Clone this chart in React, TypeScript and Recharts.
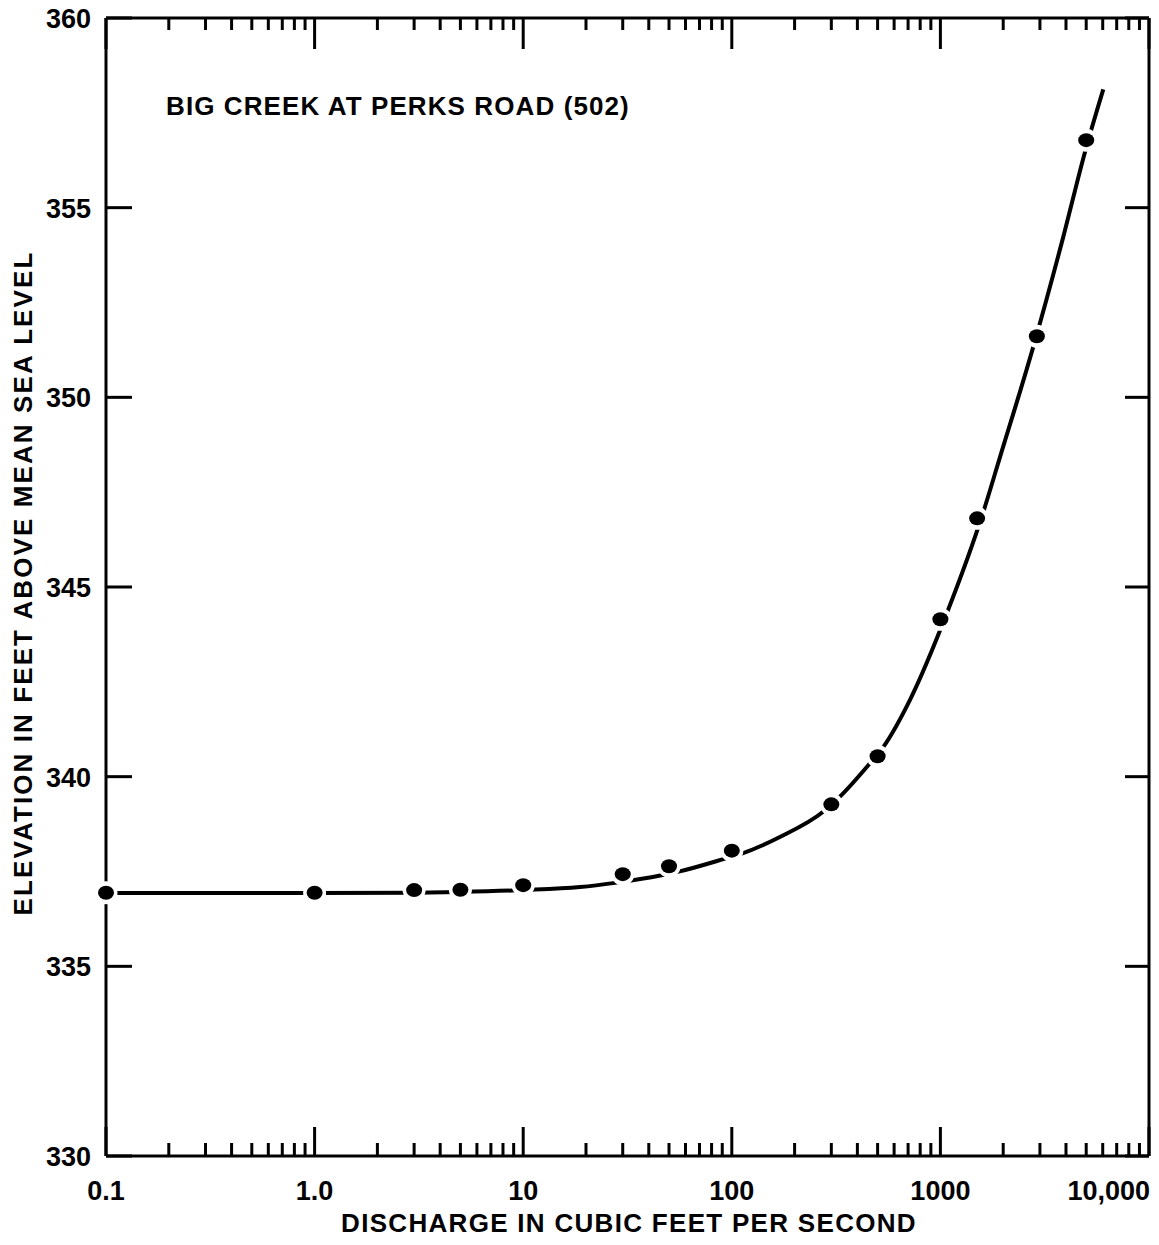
import React from 'react';
import { ComposedChart, XAxis, YAxis, Line, Scatter } from 'recharts';

const W = 1159;
const H = 1245;
const FONT = '"Liberation Sans", Arial, Helvetica, sans-serif';

// Measured stage/discharge pairs
const discharge = [0.1, 1, 3, 5, 10, 30, 50, 100, 300, 500, 1000, 1500, 2900, 5000];
const elevation = [336.94, 336.94, 337.01, 337.02, 337.14, 337.43, 337.64, 338.05, 339.27, 340.54, 344.15, 346.81, 351.61, 356.78];

// Fitted rating curve
const curveDischarge = [0.1, 1, 3, 5, 10, 18.7, 27.5, 46, 55, 93, 110, 170, 275, 324, 451, 532, 714, 1072, 1606, 1932, 2787, 3882, 4934, 6039];
const curveElevation = [336.93, 336.93, 336.94, 336.96, 337.01, 337.09, 337.2, 337.4, 337.49, 337.84, 337.96, 338.41, 339.08, 339.43, 340.3, 340.78, 342.02, 344.3, 346.98, 348.43, 351.33, 354.23, 356.47, 358.12];

// Axis ticks
const decadeTicks = [0.1, 1, 10, 100, 1000, 10000];
const decadeLabels = ['0.1', '1.0', '10', '100', '1000', '10,000'];
const minorMultipliers = [2, 3, 4, 5, 6, 7, 8, 9];
const elevationTicks = [330, 335, 340, 345, 350, 355, 360];

const xTicks: number[] = [];
decadeTicks.slice(0, -1).forEach((d) => {
  xTicks.push(d);
  minorMultipliers.forEach((m) => xTicks.push(d * m));
});
xTicks.push(decadeTicks[decadeTicks.length - 1]);

const obsData = discharge.map((q, i) => ({ q, v: elevation[i] }));
const curveData = curveDischarge.map((q, i) => ({ q, v: curveElevation[i] }));

const decadeIndex = (v: number) => decadeTicks.findIndex((d) => Math.abs(d - v) < d * 1e-6);

const BottomTick = (props: any) => {
  const { x, y, payload } = props;
  const idx = decadeIndex(payload.value);
  const major = idx >= 0;
  const last = idx === decadeTicks.length - 1;
  return (
    <g>
      <line x1={x} x2={x} y1={y} y2={y - (major ? 29 : 13)} stroke="#000" strokeWidth={3} />
      {major && (
        <text
          x={last ? x + 1 : x}
          y={y + 44}
          textAnchor={last ? 'end' : 'middle'}
          fontFamily={FONT}
          fontWeight="bold"
          fontSize={27}
          fill="#000"
        >
          {decadeLabels[idx]}
        </text>
      )}
    </g>
  );
};

const TopTick = (props: any) => {
  const { x, y, payload } = props;
  const major = decadeIndex(payload.value) >= 0;
  return <line x1={x} x2={x} y1={y} y2={y + (major ? 31 : 12)} stroke="#000" strokeWidth={3} />;
};

const LeftTick = (props: any) => {
  const { x, y, payload } = props;
  return (
    <g>
      <line x1={x} x2={x + 26} y1={y} y2={y} stroke="#000" strokeWidth={3} />
      <text
        x={x - 15}
        y={y + 10}
        textAnchor="end"
        fontFamily={FONT}
        fontWeight="bold"
        fontSize={27}
        fill="#000"
      >
        {payload.value}
      </text>
    </g>
  );
};

const RightTick = (props: any) => {
  const { x, y } = props;
  return <line x1={x} x2={x - 24} y1={y} y2={y} stroke="#000" strokeWidth={3} />;
};

const PointMark = (props: any) => {
  const { cx, cy } = props;
  return (
    <g>
      <circle cx={cx} cy={cy} r={11.5} fill="#fff" />
      <ellipse cx={cx} cy={cy} rx={8} ry={7} fill="#000" />
    </g>
  );
};

const axisLine = { stroke: '#000', strokeWidth: 3 };

export default function App() {
  return (
    <div style={{ position: 'absolute', left: 0, top: 0, width: W, height: H, background: '#fff' }}>
      <ComposedChart width={W} height={H} margin={{ top: 17, right: 9, bottom: 88, left: 105 }}>
        <XAxis
          xAxisId="bottom"
          dataKey="q"
          type="number"
          scale="log"
          domain={[0.1, 10000]}
          ticks={xTicks}
          interval={0}
          height={1}
          tickSize={0}
          tickMargin={0}
          tickLine={false}
          axisLine={axisLine}
          tick={<BottomTick />}
        />
        <XAxis
          xAxisId="top"
          orientation="top"
          dataKey="q"
          type="number"
          scale="log"
          domain={[0.1, 10000]}
          ticks={xTicks}
          interval={0}
          height={1}
          tickSize={0}
          tickMargin={0}
          tickLine={false}
          axisLine={axisLine}
          tick={<TopTick />}
        />
        <YAxis
          yAxisId="left"
          dataKey="v"
          type="number"
          domain={[330, 360]}
          ticks={elevationTicks}
          interval={0}
          width={1}
          tickSize={0}
          tickMargin={0}
          tickLine={false}
          axisLine={axisLine}
          tick={<LeftTick />}
        />
        <YAxis
          yAxisId="right"
          orientation="right"
          dataKey="v"
          type="number"
          domain={[330, 360]}
          ticks={elevationTicks}
          interval={0}
          width={1}
          tickSize={0}
          tickMargin={0}
          tickLine={false}
          axisLine={axisLine}
          tick={<RightTick />}
        />
        {/* unstroked copy of the curve keeps the top and right frame axes bound to data */}
        <Line
          xAxisId="top"
          yAxisId="right"
          data={curveData}
          dataKey="v"
          type="monotone"
          stroke="none"
          dot={false}
          activeDot={false}
          isAnimationActive={false}
        />
        <Line
          xAxisId="bottom"
          yAxisId="left"
          data={curveData}
          dataKey="v"
          type="monotone"
          stroke="#000"
          strokeWidth={4}
          dot={false}
          activeDot={false}
          isAnimationActive={false}
        />
        <Scatter
          xAxisId="bottom"
          yAxisId="left"
          data={obsData}
          dataKey="v"
          shape={<PointMark />}
          isAnimationActive={false}
        />
      </ComposedChart>
      <svg
        width={W}
        height={H}
        style={{ position: 'absolute', left: 0, top: 0, pointerEvents: 'none' }}
      >
        <text x={166} y={115} fontFamily={FONT} fontWeight="bold" fontSize={26} letterSpacing={1.1} fill="#000">
          BIG CREEK AT PERKS ROAD (502)
        </text>
        <text
          x={629}
          y={1232}
          textAnchor="middle"
          fontFamily={FONT}
          fontWeight="bold"
          fontSize={26}
          letterSpacing={1.3}
          fill="#000"
        >
          DISCHARGE IN CUBIC FEET PER SECOND
        </text>
        <text
          transform="translate(32 583) rotate(-90)"
          textAnchor="middle"
          fontFamily={FONT}
          fontWeight="bold"
          fontSize={26}
          letterSpacing={2.1}
          fill="#000"
        >
          ELEVATION IN FEET ABOVE MEAN SEA LEVEL
        </text>
      </svg>
    </div>
  );
}
